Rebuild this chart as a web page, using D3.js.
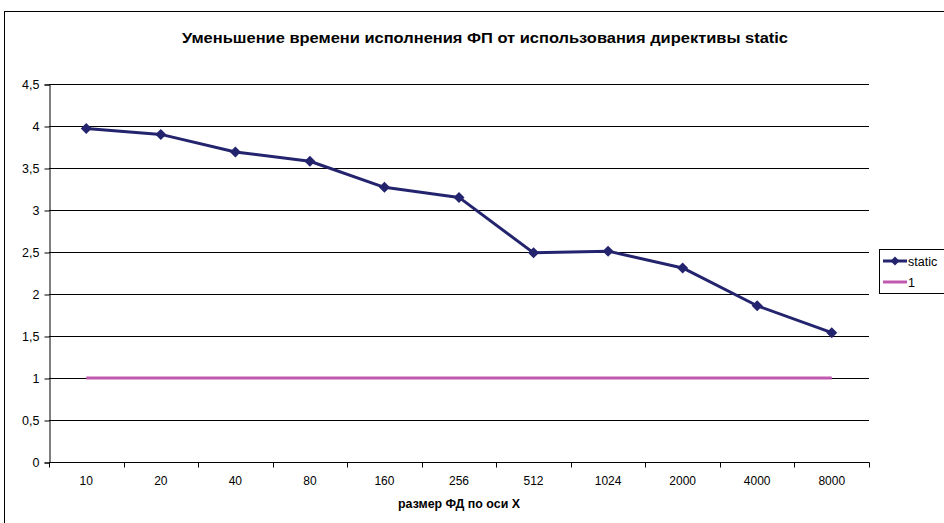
<!DOCTYPE html>
<html>
<head>
<meta charset="utf-8">
<script src="https://cdn.jsdelivr.net/npm/d3@7/dist/d3.min.js"></script>
<style>
  html, body { margin: 0; padding: 0; background: #fff; }
  svg { display: block; font-family: "Liberation Sans", Arial, sans-serif; }
</style>
</head>
<body>
<svg id="chart" width="944" height="523"></svg>
<script>
// Размер ФД по оси X
const categories = ["10", "20", "40", "80", "160", "256", "512", "1024", "2000", "4000", "8000"];
// Ускорение при использовании директивы static
const staticValues = [3.97, 3.9, 3.69, 3.58, 3.27, 3.15, 2.49, 2.51, 2.31, 1.86, 1.54];
// Опорный уровень
const baseValues = [1, 1, 1, 1, 1, 1, 1, 1, 1, 1, 1];
const yTicks = [0, 0.5, 1, 1.5, 2, 2.5, 3, 3.5, 4, 4.5];
const seriesNames = ["static", "1"];

const titleText = "Уменьшение времени исполнения ФП от использования директивы static";
const xTitleText = "размер ФД по оси X";

const svg = d3.select("#chart");
const plot = { left: 49, right: 869, top: 84, bottom: 462 };
const navy = "#24246e";
const pink = "#c058b0";

// square diamond marker of half-diagonal r
const diamondPath = r => `M0,${-r}L${r},0L0,${r}L${-r},0Z`;

// chart frame
svg.append("rect")
  .attr("x", 4.5).attr("y", 11.5)
  .attr("width", 970).attr("height", 530)
  .attr("fill", "#fff").attr("stroke", "#000").attr("stroke-width", 1);

// title
svg.append("text")
  .attr("x", 485).attr("y", 43)
  .attr("text-anchor", "middle")
  .attr("font-size", 15).attr("font-weight", "bold")
  .attr("textLength", 606).attr("lengthAdjust", "spacingAndGlyphs")
  .text(titleText);

const x = d3.scaleBand().domain(categories).range([plot.left, plot.right]).padding(0);
const y = d3.scaleLinear().domain([0, 4.5]).range([plot.bottom, plot.top]);

// horizontal gridlines
svg.append("g")
  .selectAll("line")
  .data(yTicks.filter(t => t > 0))
  .join("line")
  .attr("x1", plot.left).attr("x2", plot.right)
  .attr("y1", d => Math.round(y(d)) + 0.5).attr("y2", d => Math.round(y(d)) + 0.5)
  .attr("stroke", "#000").attr("stroke-width", 1);

// y axis
const yAxis = d3.axisLeft(y)
  .tickValues(yTicks)
  .tickSize(5)
  .tickPadding(5)
  .tickFormat(d => String(d).replace(".", ","));
const gy = svg.append("g")
  .attr("transform", `translate(${plot.left + 0.5},0.5)`)
  .call(yAxis);
gy.select(".domain").attr("stroke", "#000");
gy.selectAll(".tick line").attr("stroke", "#000");
gy.selectAll(".tick text")
  .attr("font-size", 12.5)
  .attr("font-family", "Liberation Sans, Arial, sans-serif")
  .attr("fill", "#000");

// x axis with ticks at category boundaries
const xAxisG = svg.append("g").attr("transform", `translate(0,${plot.bottom + 0.5})`);
xAxisG.append("line")
  .attr("x1", plot.left).attr("x2", plot.right + 0.5)
  .attr("y1", 0).attr("y2", 0)
  .attr("stroke", "#000");
const boundaries = categories.map(c => x(c)).concat([x(categories[categories.length - 1]) + x.bandwidth()]);
xAxisG.selectAll("line.tb")
  .data(boundaries)
  .join("line")
  .attr("class", "tb")
  .attr("x1", d => Math.round(d) + 0.5).attr("x2", d => Math.round(d) + 0.5)
  .attr("y1", 0).attr("y2", 5)
  .attr("stroke", "#000");
xAxisG.selectAll("text")
  .data(categories)
  .join("text")
  .attr("x", d => x(d) + x.bandwidth() / 2)
  .attr("y", 22)
  .attr("text-anchor", "middle")
  .attr("font-size", 12)
  .text(d => d);

// x axis title
svg.append("text")
  .attr("x", 459).attr("y", 508)
  .attr("text-anchor", "middle")
  .attr("font-size", 12.5).attr("font-weight", "bold")
  .attr("textLength", 122).attr("lengthAdjust", "spacingAndGlyphs")
  .text(xTitleText);

const cx = c => x(c) + x.bandwidth() / 2;
const line = d3.line().x((d, i) => cx(categories[i])).y(d => y(d));

// reference line
svg.append("path")
  .datum(baseValues)
  .attr("d", line)
  .attr("fill", "none")
  .attr("stroke", pink)
  .attr("stroke-width", 3);

// static series
svg.append("path")
  .datum(staticValues)
  .attr("d", line)
  .attr("fill", "none")
  .attr("stroke", navy)
  .attr("stroke-width", 3)
  .attr("stroke-linejoin", "round");

svg.append("g")
  .selectAll("path")
  .data(staticValues)
  .join("path")
  .attr("transform", (d, i) => `translate(${cx(categories[i])},${y(d)})`)
  .attr("d", diamondPath(5.5))
  .attr("fill", navy);

// legend
const lg = svg.append("g");
lg.append("rect")
  .attr("x", 879.5).attr("y", 249.5)
  .attr("width", 80).attr("height", 44)
  .attr("fill", "#fff").attr("stroke", "#000");
const rows = [
  { name: seriesNames[0], color: navy, marker: true, yy: 261 },
  { name: seriesNames[1], color: pink, marker: false, yy: 282 }
];
rows.forEach(r => {
  lg.append("line")
    .attr("x1", 883).attr("x2", 907)
    .attr("y1", r.yy).attr("y2", r.yy)
    .attr("stroke", r.color).attr("stroke-width", 3);
  if (r.marker) {
    lg.append("path")
      .attr("transform", `translate(895,${r.yy})`)
      .attr("d", diamondPath(4.5))
      .attr("fill", r.color);
  }
  lg.append("text")
    .attr("x", 908).attr("y", r.yy + 4.5)
    .attr("font-size", 12.5)
    .text(r.name);
});
</script>
</body>
</html>
